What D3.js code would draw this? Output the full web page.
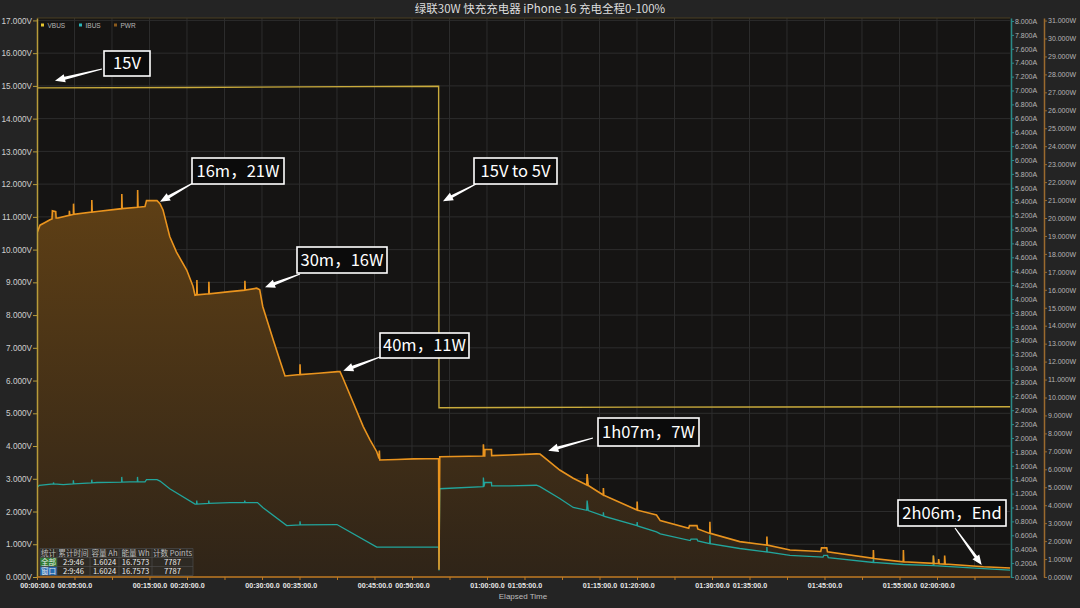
<!DOCTYPE html>
<html><head><meta charset="utf-8">
<script src="https://cdn.jsdelivr.net/npm/d3@7"></script>
<style>
html,body{margin:0;padding:0;background:#242424;}
svg{display:block;}
</style></head><body>
<svg id="c" width="1080" height="608"></svg>
<script>
// ---------------- data ----------------
const title = "绿联30W 快充充电器 iPhone 16 充电全程0-100%";
const seriesNames = ["VBUS", "IBUS", "PWR"];
const totalMinutes = 129.767; // 2:09:46

// [minutes, volts]
const vbus = [[0,0],[0.02,14.94],[20,14.95],[35,14.97],[53.55,14.99],[53.6,5.17],[80,5.19],[129.767,5.2]];

// [minutes, amps]
const ibus = [[0,0],[0.03,1.29],[0.3,1.32],[2.18,1.34],[2.2,1.36],[2.25,1.34],[3.5,1.33],
 [4.83,1.34],[4.85,1.39],[4.9,1.34],[7.28,1.355],[7.3,1.40],[7.35,1.355],[8,1.36],
 [11.28,1.365],[11.3,1.44],[11.35,1.365],[12.4,1.37],[13.38,1.37],[13.4,1.44],[13.45,1.37],
 [14.4,1.37],[14.6,1.40],[16,1.40],[16.4,1.38],[17.7,1.27],[21.07,1.05],
 [21.28,1.05],[21.3,1.10],[21.35,1.05],[22.88,1.06],[22.9,1.10],[22.95,1.06],[25.7,1.07],
 [27.68,1.07],[27.7,1.10],[27.75,1.07],[29.4,1.07],[30.1,1.0],[33.3,0.74],
 [35.05,0.75],[35.07,0.80],[35.12,0.75],[40,0.755],[40.4,0.73],[45.3,0.43],[53.55,0.43],
 [53.6,0.095],[53.7,1.27],[59.5,1.30],[59.52,1.43],[59.6,1.30],[59.72,1.36],[60.6,1.36],[60.62,1.31],
 [63,1.31],[66.6,1.32],[67.07,1.30],[69.7,1.13],[71.5,1.0],[73.3,0.96],[73.35,1.10],[73.5,0.955],
 [75.5,0.88],[75.52,0.93],[75.57,0.875],[80,0.74],[80.02,0.79],[80.07,0.735],[82.6,0.65],[83.1,0.62],
 [87.1,0.525],[87.2,0.545],[88.0,0.545],[88.1,0.52],[89.7,0.48],[89.72,0.60],[89.77,0.48],[93.7,0.41],
 [97.3,0.36],[97.32,0.43],[97.37,0.36],[100.4,0.31],[104.8,0.285],[104.9,0.31],[105.4,0.31],[105.5,0.28],
 [111.5,0.21],[111.52,0.285],[111.57,0.21],[115.5,0.18],[119.5,0.165],[119.52,0.31],[119.6,0.165],
 [126.2,0.12],[129.767,0.1]];

// [minutes, watts]
const pwr = [[0,0],[0.03,19.2],[0.4,19.6],[1.07,19.75],[1.73,19.9],[2.0,19.95],[2.05,20.4],[2.5,20.35],[2.55,20.0],
 [2.8,20.0],[4.3,20.15],[4.32,20.4],[4.37,20.15],[4.85,20.2],[4.87,20.8],[4.92,20.2],
 [7.29,20.33],[7.31,21.0],[7.36,20.33],[8.0,20.36],[11.29,20.52],[11.31,21.34],[11.36,20.52],
 [13.4,20.6],[13.42,21.56],[13.47,20.6],[14.4,20.64],[14.6,20.97],[16.0,20.97],[16.4,20.8],[16.8,20.45],
 [17.7,18.97],[18.6,18.1],[19.96,17.1],[20.8,16.2],[21.07,15.7],
 [21.3,15.72],[21.32,16.55],[21.37,15.72],[22.9,15.78],[22.92,16.45],[22.97,15.78],[25.7,15.9],
 [27.7,15.98],[27.72,16.5],[27.77,15.98],[29.3,16.09],[29.7,16.0],[30.1,15.07],[31.5,13.2],[32.6,11.8],[33.07,11.2],
 [35.05,11.28],[35.07,11.85],[35.12,11.28],[37.5,11.35],[40.1,11.44],[40.4,11.44],[40.8,11.07],
 [42.2,9.68],[43.5,8.38],[44.4,7.64],[45.3,6.98],[45.6,6.6],[45.65,7.05],[45.7,6.52],[48,6.55],[50.2,6.58],
 [53.55,6.6],[53.6,0.4],[53.7,6.7],[59.5,6.74],[59.52,7.4],[59.6,6.74],[59.7,6.74],[59.72,7.1],[60.6,7.1],[60.62,6.76],
 [63,6.8],[66.6,6.86],[67.07,6.85],[67.5,6.7],[69.7,5.96],[71.5,5.5],
 [73.3,5.13],[73.35,5.74],[73.5,5.1],[75.5,4.57],[75.52,4.96],[75.57,4.55],[80,3.73],[80.02,4.2],[80.07,3.72],
 [82.6,3.45],[83.1,3.14],[86.9,2.72],[87.0,2.86],[88.0,2.86],[88.1,2.68],[89.7,2.43],[89.72,3.08],[89.77,2.43],
 [93.7,1.97],[97.3,1.78],[97.32,2.25],[97.37,1.78],[100.4,1.5],[104.5,1.42],[104.6,1.62],[105.3,1.62],[105.4,1.4],
 [111.5,1.04],[111.52,1.5],[111.57,1.03],[115.5,0.85],[115.52,1.5],[115.57,0.85],
 [119.5,0.76],[119.52,1.2],[119.6,0.76],[120.2,0.75],[120.22,1.0],[120.3,0.74],[121.0,0.72],[121.02,1.2],[121.1,0.72],
 [126.2,0.57],[129.767,0.5]];

const timeTicks = d3.range(0, 126, 5);
const timeLabelTicks = [0,5,15,20,30,35,45,50,60,65,75,80,90,95,105,115,120];
const voltTicks = d3.range(0, 18, 1);
const ampTicks = d3.range(0, 41, 1).map(i => i * 0.2);
const wattTicks = d3.range(0, 32, 1);

const statsHeader = ["统计", "累计时间", "容量 Ah", "能量 Wh", "计数 Points"];
const statsRows = [["全部", "2:9:46", "1.6024", "16.7573", "7787"],
                   ["窗口", "2:9:46", "1.6024", "16.7573", "7787"]];

// annotations: text, anchor in data units (minutes, value, axis)
const noteTexts = ["15V", "16m，21W", "30m，16W", "40m，11W", "15V to 5V", "1h07m，7W", "2h06m，End"];
const noteAnchors = [[2.4,15.16,"V"],[16.4,20.9,"W"],[30.4,16.14,"W"],[40.84,11.49,"W"],[54.13,11.48,"V"],[68.17,7.04,"W"],[125.96,0.67,"W"]];

// ---------------- layout ----------------
const L = 37, R = 1010.25, T = 18, B = 577;
const boxes = [[104,51,46,25],[192,158,92,26],[297,247,90,26],[380,333,89,25],[474,158,83,26],[598,418,101,28],[898,500,108,26]];
const tails = [[102,69],[193,183],[300,274],[380,357],[476,184],[593,438],[955,528]];

const svg = d3.select("#c");
const x = d3.scaleLinear().domain([0, totalMinutes]).range([L, R]);
const yV = d3.scaleLinear().domain([0, (B - T) / 32.74]).range([B, T]);
const yA = d3.scaleLinear().domain([0, (B - T) / 69.5]).range([B, T]);
const yW = d3.scaleLinear().domain([0, (B - T) / 17.95]).range([B, T]);

svg.append("rect").attr("width",1080).attr("height",608).attr("fill","#242424");
svg.append("rect").attr("x",L).attr("y",T).attr("width",R-L).attr("height",B-T).attr("fill","#151413");

const defs = svg.append("defs");
defs.append("clipPath").attr("id","clip").append("rect").attr("x",L).attr("y",T-2).attr("width",R-L).attr("height",B-T+2);
const grad = defs.append("linearGradient").attr("id","pg").attr("gradientUnits","userSpaceOnUse")
  .attr("x1",0).attr("x2",0).attr("y1",200).attr("y2",B);
grad.append("stop").attr("offset",0).attr("stop-color","#5e3f15");
grad.append("stop").attr("offset",1).attr("stop-color","#2f2418");

// grid
const grid = svg.append("g");
grid.selectAll("line.v").data(timeTicks.filter(d=>d>0)).join("line")
  .attr("x1",d=>x(d)).attr("x2",d=>x(d)).attr("y1",T).attr("y2",B)
  .attr("stroke","#2d2d2d").attr("stroke-width",1);
grid.selectAll("line.h").data(voltTicks.filter(d=>d>0)).join("line")
  .attr("x1",L).attr("x2",R).attr("y1",d=>yV(d)).attr("y2",d=>yV(d))
  .attr("stroke","#2d2d2d").attr("stroke-width",1);
svg.append("line").attr("x1",L).attr("x2",R).attr("y1",T).attr("y2",T).attr("stroke","#4a3e22");

// series
const plot = svg.append("g").attr("clip-path","url(#clip)");
plot.append("path").datum(pwr)
  .attr("d", d3.area().x(d=>x(d[0])).y0(B).y1(d=>yW(d[1])))
  .attr("fill","url(#pg)");
plot.append("path").datum(vbus)
  .attr("d", d3.line().x(d=>x(d[0])).y(d=>yV(d[1])))
  .attr("fill","none").attr("stroke","#c9ab3c").attr("stroke-width",1.4);
plot.append("path").datum(ibus)
  .attr("d", d3.line().x(d=>x(d[0])).y(d=>yA(d[1])))
  .attr("fill","none").attr("stroke","#22a59c").attr("stroke-width",1.3);
plot.append("path").datum(pwr)
  .attr("d", d3.line().x(d=>x(d[0])).y(d=>yW(d[1])))
  .attr("fill","none").attr("stroke","#f39a1f").attr("stroke-width",1.6).attr("stroke-opacity",0.95);

// axes
function style(g, lineColor, textColor, fs, bold) {
  g.select(".domain").attr("stroke", lineColor).attr("stroke-width", 1.5);
  g.selectAll(".tick line").attr("stroke", lineColor);
  g.selectAll(".tick text").attr("fill", textColor).attr("font-size", fs)
    .attr("font-family", "'Liberation Sans', Arial, sans-serif").attr("font-weight", bold ? "bold" : "normal");
}
const gV = svg.append("g").attr("transform",`translate(${L},0)`)
  .call(d3.axisLeft(yV).tickValues(voltTicks).tickFormat(d=>d.toFixed(3)+"V").tickSize(4).tickPadding(1).tickSizeOuter(0));
style(gV, "#b89c3a", "#cfcfcf", 8.2, false);

const gA = svg.append("g").attr("transform",`translate(1011,0)`)
  .call(d3.axisRight(yA).tickValues(ampTicks).tickFormat(d=>d.toFixed(3)+"A").tickSize(3).tickPadding(1).tickSizeOuter(0));
style(gA, "#2a8a88", "#b5b5b5", 7, false);

const gW = svg.append("g").attr("transform",`translate(1044,0)`)
  .call(d3.axisRight(yW).tickValues(wattTicks).tickFormat(d=>d.toFixed(3)+"W").tickSize(3).tickPadding(1).tickSizeOuter(0));
style(gW, "#9a6a2e", "#b5b5b5", 7, false);

const fmtT = m => { const s = Math.round(m*60); const h = Math.floor(s/3600), mm = Math.floor((s%3600)/60), ss = s%60;
  return String(h).padStart(2,"0")+":"+String(mm).padStart(2,"0")+":"+String(ss).padStart(2,"0")+".0"; };
const gX = svg.append("g").attr("transform",`translate(0,${B})`)
  .call(d3.axisBottom(x).tickValues(timeTicks).tickFormat(d=>timeLabelTicks.includes(d)?fmtT(d):"").tickSize(3).tickPadding(3).tickSizeOuter(0));
style(gX, "#c07a22", "#e6e6e6", 7.1, true);
gX.select(".domain").attr("d", `M${L},0H${R}`);

svg.append("text").attr("x",523).attr("y",599).attr("text-anchor","middle")
  .attr("font-family","'Liberation Sans', Arial, sans-serif").attr("font-size",8).attr("fill","#bdbdbd").text("Elapsed Time");

// title
svg.append("text").attr("x",540).attr("y",13).attr("text-anchor","middle")
  .attr("font-family","'Noto Sans CJK SC', sans-serif").attr("font-size",11.5).attr("fill","#dcdcdc").text(title);

// legend
const legColors = ["#e6c52e","#2ab5b8","#8b5a1c"];
const legX = [41, 79, 114];
const leg = svg.append("g");
seriesNames.forEach((n,i)=>{
  leg.append("rect").attr("x",legX[i]).attr("y",23.5).attr("width",3).attr("height",3).attr("fill",legColors[i]);
  leg.append("text").attr("x",legX[i]+6.5).attr("y",27.5).attr("font-size",6.5)
    .attr("font-family","'Liberation Sans', Arial, sans-serif").attr("fill","#b8b8b8").text(n);
});

// stats table
const colX = [40, 57, 90, 119, 152, 193];
const rowY = [548.5, 557.5, 566.5, 575.5];
const tb = svg.append("g").attr("font-family","'Noto Sans CJK SC', sans-serif").attr("font-size",7.6);
tb.append("rect").attr("x",colX[0]).attr("y",rowY[0]).attr("width",colX[5]-colX[0]).attr("height",rowY[3]-rowY[0])
  .attr("fill","#2e2b27").attr("fill-opacity",0.85);
tb.append("rect").attr("x",colX[0]).attr("y",rowY[1]).attr("width",colX[1]-colX[0]).attr("height",9).attr("fill","#2f7d32");
tb.append("rect").attr("x",colX[0]).attr("y",rowY[2]).attr("width",colX[1]-colX[0]).attr("height",9).attr("fill","#2469b0");
[statsHeader, ...statsRows].forEach((row, r) => {
  row.forEach((c, i) => {
    tb.append("text").attr("x",(colX[i]+colX[i+1])/2).attr("y",rowY[r]+7.3).attr("text-anchor","middle")
      .attr("fill", r===0 ? "#bdbdbd" : "#e8e8e8").text(c);
  });
});
colX.forEach(cx => tb.append("line").attr("x1",cx).attr("x2",cx).attr("y1",rowY[0]).attr("y2",rowY[3]).attr("stroke","#4a4a4a").attr("stroke-width",0.7));
rowY.forEach(ry => tb.append("line").attr("x1",colX[0]).attr("x2",colX[5]).attr("y1",ry).attr("y2",ry).attr("stroke","#4a4a4a").attr("stroke-width",0.7));

// annotations
const ann = svg.append("g");
noteTexts.forEach((t, i) => {
  const [bx, by, bw, bh] = boxes[i];
  const a = noteAnchors[i];
  const tx = x(a[0]), ty = (a[2] === "V" ? yV : yW)(a[1]);
  const [sx, sy] = tails[i];
  const dx = tx - sx, dy = ty - sy, len = Math.hypot(dx, dy);
  const ux = dx/len, uy = dy/len, px = -uy, py = ux;
  const head = 10, hw = 4.2, w0 = 0.6, w1 = 1.5;
  const hx = tx - ux*head, hy = ty - uy*head;
  const pts = [[sx+px*w0, sy+py*w0],[hx+px*w1, hy+py*w1],[hx+px*hw, hy+py*hw],[tx,ty],
               [hx-px*hw, hy-py*hw],[hx-px*w1, hy-py*w1],[sx-px*w0, sy-py*w0]];
  ann.append("polygon").attr("points", pts.map(p=>p.join(",")).join(" ")).attr("fill","#ffffff");
  ann.append("rect").attr("x",bx).attr("y",by).attr("width",bw).attr("height",bh)
    .attr("fill","#0b0b0b").attr("stroke","#ffffff").attr("stroke-width",1.6);
  ann.append("text").attr("x",bx+bw/2).attr("y",by+bh/2+5.8).attr("text-anchor","middle")
    .attr("font-family","'Noto Sans CJK SC', sans-serif").attr("font-size",16.5).attr("fill","#ffffff").text(t);
});
</script>
</body></html>
